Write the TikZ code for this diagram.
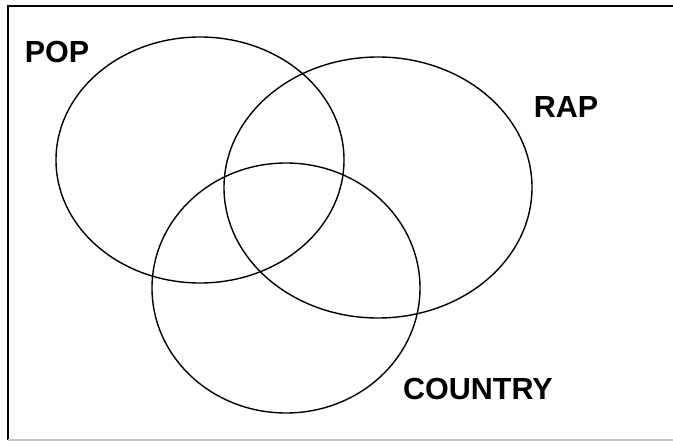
\documentclass[tikz,border=0pt]{standalone}
\usepackage{fontspec}
\setmainfont{Liberation Sans}
\usetikzlibrary{positioning}

\begin{document}
\begin{tikzpicture}[
    x=1pt, y=-1pt,
    set/.style={draw, line width=1.4pt},
    frame/.style={draw, line width=1.6pt},
    genre/.style={font=\fontsize{30.5}{32}\selectfont\bfseries, inner sep=0pt}
]
\useasboundingbox (0,0) rectangle (673,441);

% Frame
\coordinate (tl) at (8,6);
\coordinate (tr) at (673,6);
\coordinate (bl) at (8,440);
\coordinate (br) at (673,440);
\draw[frame] (tr) -- (tl) -- (bl);
\draw[frame, gray!45] (bl) -- (br);

% Sets
\coordinate (pop) at (200,160);
\coordinate (rap) at (378,187.5);
\coordinate (country) at (286,288);
\draw[set] (pop) ellipse [x radius=144, y radius=123];
\draw[set] (rap) ellipse [x radius=154, y radius=130.5];
\draw[set] (country) ellipse [x radius=134, y radius=125];

% Labels
\node[genre] (lpop) at (57,52.5) {POP};
\node[genre] (lrap) at (566,107.5) {RAP};
\node[genre] (lcountry) at (478,389.5) {COUNTRY};

\end{tikzpicture}
\end{document}
